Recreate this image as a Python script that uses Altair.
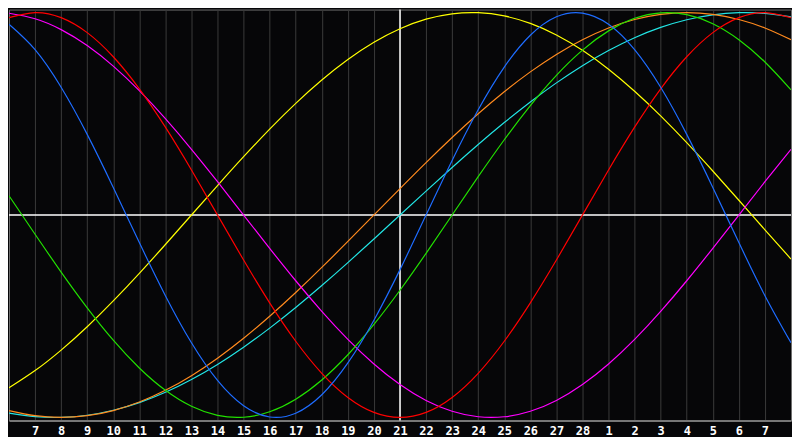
import altair as alt
import pandas as pd

# Day labels at grid positions 1..29 (position 15 = "today", 21)
DAY_LABELS = ["7", "8", "9", "10", "11", "12", "13", "14", "15", "16", "17", "18", "19", "20",
              "21", "22", "23", "24", "25", "26", "27", "28", "1", "2", "3", "4", "5", "6", "7"]
TODAY_POS = 15
POSITIONS = list(range(0, 31))

# Cycle values (-1..1) read at each day position 0..30
PHYSICAL = [0.9423, 0.8170, 0.6311, 0.3984, 0.1362, -0.1362, -0.3984, -0.6311, -0.8170, -0.9423,
            -0.9977, -0.9791, -0.8879, -0.7308, -0.5196, -0.2698, 0.0, 0.2698, 0.5196, 0.7308,
            0.8879, 0.9791, 0.9977, 0.9423, 0.8170, 0.6311, 0.3984, 0.1362, -0.1362, -0.3984, -0.6311]
EMOTIONAL = [0.9749, 1.0, 0.9749, 0.9010, 0.7818, 0.6235, 0.4339, 0.2225, 0.0, -0.2225,
             -0.4339, -0.6235, -0.7818, -0.9010, -0.9749, -1.0, -0.9749, -0.9010, -0.7818, -0.6235,
             -0.4339, -0.2225, 0.0, 0.2225, 0.4339, 0.6235, 0.7818, 0.9010, 0.9749, 1.0, 0.9749]
INTELLECTUAL = [0.0951, -0.0951, -0.2817, -0.4582, -0.6182, -0.7557, -0.8660, -0.9450, -0.9898, -0.9989,
                -0.9718, -0.9096, -0.8146, -0.6901, -0.5406, -0.3717, -0.1893, 0.0, 0.1893, 0.3717,
                0.5406, 0.6901, 0.8146, 0.9096, 0.9718, 0.9989, 0.9898, 0.9450, 0.8660, 0.7557, 0.6182]
INTUITIVE = [0.9966, 0.9694, 0.9158, 0.8372, 0.7357, 0.6142, 0.4759, 0.3247, 0.1646, 0.0,
             -0.1646, -0.3247, -0.4759, -0.6142, -0.7357, -0.8372, -0.9158, -0.9694, -0.9966, -0.9966,
             -0.9694, -0.9158, -0.8372, -0.7357, -0.6142, -0.4759, -0.3247, -0.1646, 0.0, 0.1646, 0.3247]
AESTHETIC = [-0.8536, -0.7685, -0.6672, -0.5517, -0.4244, -0.2881, -0.1456, 0.0, 0.1456, 0.2881,
             0.4244, 0.5517, 0.6672, 0.7685, 0.8536, 0.9204, 0.9675, 0.9940, 0.9993, 0.9834,
             0.9465, 0.8894, 0.8135, 0.7200, 0.6112, 0.4894, 0.3572, 0.2174, 0.0730, -0.0730, -0.2174]
AWARENESS = [-0.9659, -0.9914, -1.0, -0.9914, -0.9659, -0.9239, -0.8660, -0.7934, -0.7071, -0.6088,
             -0.5, -0.3827, -0.2588, -0.1305, 0.0, 0.1305, 0.2588, 0.3827, 0.5, 0.6088,
             0.7071, 0.7934, 0.8660, 0.9239, 0.9659, 0.9914, 1.0, 0.9914, 0.9659, 0.9239, 0.8660]
SPIRITUAL = [-0.9786, -0.9961, -0.9996, -0.9890, -0.9646, -0.9267, -0.8757, -0.8125, -0.7379, -0.6528,
             -0.5586, -0.4566, -0.3482, -0.2349, -0.1183, 0.0, 0.1183, 0.2349, 0.3482, 0.4566,
             0.5586, 0.6528, 0.7379, 0.8125, 0.8757, 0.9267, 0.9646, 0.9890, 0.9996, 0.9961, 0.9786]

SERIES_NAMES = ["Spiritual", "Awareness", "Aesthetic", "Intuitive", "Intellectual", "Emotional", "Physical"]
SERIES_VALUES = [SPIRITUAL, AWARENESS, AESTHETIC, INTUITIVE, INTELLECTUAL, EMOTIONAL, PHYSICAL]
SERIES_COLORS = ["#22e4e4", "#ff8a1e", "#ffff00", "#ff00ff", "#22e000", "#ff0000", "#1e6cff"]

rows = []
for order, (name, vals) in enumerate(zip(SERIES_NAMES, SERIES_VALUES)):
    for p, v in zip(POSITIONS, vals):
        rows.append({"series": name, "order": order, "pos": p, "value": v})
df = pd.DataFrame(rows)

label_expr = "[" + ",".join("'" + s + "'" for s in DAY_LABELS) + "][datum.value - 1]"

x_scale = alt.Scale(domain=[0, 30], nice=False, zero=False)
y_scale = alt.Scale(domain=[-1.015, 1.015], nice=False, zero=False)

x_axis = alt.Axis(
    values=list(range(1, len(DAY_LABELS) + 1)),
    labelExpr=label_expr,
    title=None,
    ticks=False,
    grid=True,
    gridColor="#3a3a3a",
    gridWidth=1,
    domain=True,
    domainColor="#8c8c8c",
    domainWidth=1.5,
    labelColor="#ffffff",
    labelFont="DejaVu Sans Mono",
    labelFontWeight="bold",
    labelFontSize=12,
    labelPadding=5,
    labelFlush=False,
    labelOverlap=False,
)

base = alt.Chart(df)

lines = base.mark_line(strokeWidth=1.2, interpolate="natural", clip=True).encode(
    x=alt.X("pos:Q", scale=x_scale, axis=x_axis),
    y=alt.Y("value:Q", scale=y_scale, axis=None),
    color=alt.Color("series:N", scale=alt.Scale(domain=SERIES_NAMES, range=SERIES_COLORS), legend=None),
    detail="series:N",
    order="order:Q",
)

hline = alt.Chart(pd.DataFrame({"v": [0.0]})).mark_rule(color="#ffffff", strokeWidth=1.5).encode(
    y=alt.Y("v:Q", scale=y_scale, axis=None)
)
vline = alt.Chart(pd.DataFrame({"p": [TODAY_POS]})).mark_rule(color="#ffffff", strokeWidth=1.5).encode(
    x=alt.X("p:Q", scale=x_scale, axis=x_axis)
)

chart = (
    alt.layer(hline, vline, lines)
    .properties(width=784, height=412, background="#060608", padding=0)
    .configure_view(stroke="#6e6e6e", strokeWidth=1, fill="#060608")
)

chart.save("out.html", embed_options={"renderer": "svg", "actions": False})
